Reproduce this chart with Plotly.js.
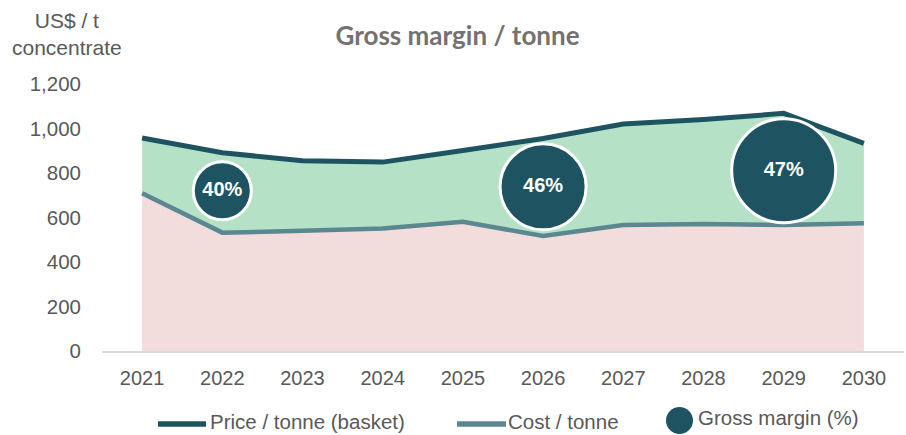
<!DOCTYPE html>
<html>
<head>
<meta charset="utf-8">
<script src="https://cdn.plot.ly/plotly-3.0.1.min.js"></script>
<style>html,body{margin:0;padding:0;background:#fff;}#chart{width:906px;height:435px;}</style>
</head>
<body>
<div id="chart"></div>
<script>
const years = ['2021','2022','2023','2024','2025','2026','2027','2028','2029','2030'];
const price = [957, 891, 855, 849, 901, 955, 1020, 1040, 1068, 933];
const cost = [709, 532, 540, 551, 581, 517, 566, 571, 566, 574];
const marginYears = ['2022','2026','2029'];
const marginY = [720, 738, 810];
const marginPct = [40, 46, 47];
const bubbleSize = [58, 86, 104];
const yTicks = [0, 200, 400, 600, 800, 1000, 1200];
const seriesNames = ['Price / tonne (basket)', 'Cost / tonne', 'Gross margin (%)'];

const darkTeal = '#1e5461';
const greyTeal = '#5b8790';
const font = 'Liberation Sans, Arial, sans-serif';
const grey = '#595959';

const traces = [
  {
    x: years, y: cost, type: 'scatter', mode: 'lines', name: seriesNames[1],
    fill: 'tozeroy', fillcolor: '#f2dcdc',
    line: {color: greyTeal, width: 4.5}
  },
  {
    x: years, y: price, type: 'scatter', mode: 'lines', name: seriesNames[0],
    fill: 'tonexty', fillcolor: '#b5e1c7',
    line: {color: darkTeal, width: 5}
  },
  {
    x: marginYears, y: marginY, type: 'scatter', mode: 'markers+text', name: seriesNames[2],
    text: marginPct.map(v => v + '%'), textposition: 'middle center',
    textfont: {family: font, size: 20, color: '#ffffff', weight: 'bold'},
    marker: {size: bubbleSize, sizemode: 'diameter', color: darkTeal, opacity: 1,
             line: {color: '#ffffff', width: 3}}
  }
];

// legend drawn by hand (paper coordinates), plot area spans px 102..904 x, 84..351 y
const L = 102, W = 802, B = 351, H = 267;
const px = v => (v - L) / W;
const py = v => (B - v) / H;

const shapes = [
  {type: 'line', xref: 'paper', yref: 'paper', x0: px(158), x1: px(206), y0: py(424), y1: py(424),
   line: {color: darkTeal, width: 5.5}},
  {type: 'line', xref: 'paper', yref: 'paper', x0: px(457), x1: px(506), y0: py(424), y1: py(424),
   line: {color: greyTeal, width: 5.5}},
  {type: 'circle', xref: 'paper', yref: 'paper', x0: px(666), x1: px(693), y0: py(407), y1: py(434),
   fillcolor: darkTeal, line: {width: 0}}
];

const legendText = (txt, xpx, ypx) => ({
  text: txt, xref: 'paper', yref: 'paper', x: px(xpx), y: py(ypx),
  xanchor: 'left', yanchor: 'middle', showarrow: false, borderpad: 0,
  font: {family: font, size: 20.5, color: grey}
});

const layout = {
  width: 906, height: 435,
  margin: {l: 102, r: 2, t: 84, b: 84},
  paper_bgcolor: '#ffffff', plot_bgcolor: '#ffffff',
  showlegend: false,
  title: {
    text: '<b>Gross margin / tonne</b>',
    font: {family: 'Lato, sans-serif', size: 26, color: '#767171'},
    x: 0.505, xanchor: 'center', y: 0.918, yanchor: 'middle'
  },
  xaxis: {
    type: 'category', range: [-0.5, 9.5],
    showgrid: false, zeroline: false,
    showline: true, linecolor: '#d9d9d9', linewidth: 1.5,
    ticks: '', tickfont: {family: font, size: 20, color: grey},
    ticklabelstandoff: 8
  },
  yaxis: {
    range: [0, 1200], tickvals: yTicks, tickformat: ',',
    showgrid: false, zeroline: false, showline: false,
    ticks: '', tickfont: {family: font, size: 20.5, color: grey},
    ticklabelstandoff: 20
  },
  shapes: shapes,
  annotations: [
    {
      text: 'US$ / t<br>concentrate', xref: 'paper', yref: 'paper',
      x: px(67), y: py(34), xanchor: 'center', yanchor: 'middle', showarrow: false,
      font: {family: font, size: 21, color: grey}
    },
    legendText(seriesNames[0], 209, 421),
    legendText(seriesNames[1], 507, 421),
    legendText(seriesNames[2], 697, 417)
  ]
};

Plotly.newPlot('chart', traces, layout, {displayModeBar: false, staticPlot: true});
</script>
</body>
</html>
